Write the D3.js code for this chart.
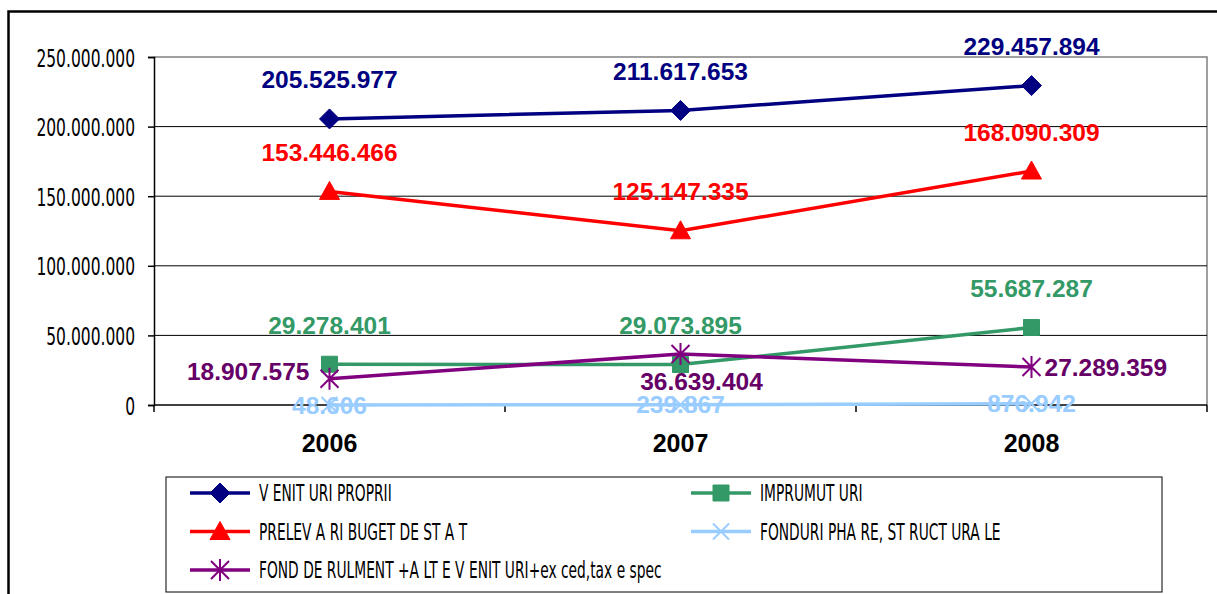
<!DOCTYPE html>
<html>
<head>
<meta charset="utf-8">
<script src="https://cdn.jsdelivr.net/npm/d3@7"></script>
<style>
  body { margin: 0; background: #fff; }
  .tick-label { font-family: "DejaVu Sans", sans-serif; font-size: 25px; fill: #000; }
  .year-label { font-family: "Liberation Sans", Arial, sans-serif; font-weight: bold; font-size: 25px; fill: #000; }
  .value-label { font-family: "Liberation Sans", Arial, sans-serif; font-weight: bold; font-size: 24.5px; }
  .legend-label { font-family: "DejaVu Sans", sans-serif; font-size: 23px; fill: #000; }
</style>
</head>
<body>
<svg id="chart" width="1217" height="594"></svg>
<script>
// data
const years = ['2006', '2007', '2008'];
const venituriProprii = [205525977, 211617653, 229457894];
const prelevariBuget = [153446466, 125147335, 168090309];
const imprumuturi = [29278401, 29073895, 55687287];
const fondRulment = [18907575, 36639404, 27289359];
const fonduriPhare = [48606, 239867, 876942];
const yTicks = [0, 50000000, 100000000, 150000000, 200000000, 250000000];

const seriesNames = [
  'V ENIT URI PROPRII',
  'PRELEV A RI BUGET  DE ST A T',
  'IMPRUMUT URI',
  'FOND DE RULMENT +A LT E V ENIT URI+ex ced,tax e spec',
  'FONDURI PHA RE, ST RUCT URA LE'
];

// styling per series (not data)
const seriesStyle = [
  { values: venituriProprii, color: '#000080', marker: 'diamond', label: (i) => ({ dx: 0, dy: -39, anchor: 'middle' }) },
  { values: prelevariBuget, color: '#ff0000', marker: 'triangle', label: (i) => ({ dx: 0, dy: -39, anchor: 'middle' }) },
  { values: imprumuturi, color: '#339966', marker: 'square', label: (i) => ({ dx: 0, dy: -39, anchor: 'middle' }) },
  { values: fondRulment, color: '#800080', textColor: '#660066', marker: 'star',
    label: (i) => [{ dx: -20, dy: -7, anchor: 'end' }, { dx: 21, dy: 27, anchor: 'middle' }, { dx: 13, dy: 0, anchor: 'start' }][i] },
  { values: fonduriPhare, color: '#99ccff', marker: 'x', label: (i) => ({ dx: 0, dy: 0, anchor: 'middle' }) }
];

const fmt = d3.formatLocale({ decimal: ',', thousands: '.', grouping: [3], currency: ['', ''] }).format(',d');

// squeeze text horizontally to imitate the narrow font of the original
function condense(sel, factor) {
  sel.each(function() {
    const w = this.getComputedTextLength();
    d3.select(this)
      .attr('textLength', w * factor)
      .attr('lengthAdjust', 'spacingAndGlyphs');
  });
}

const svg = d3.select('#chart');
const plot = { left: 154, right: 1207, top: 57, bottom: 405 };

// outer frame
svg.append('path')
  .attr('d', `M8.5,600 L8.5,11.5 L1220,11.5`)
  .attr('fill', 'none')
  .attr('stroke', '#000')
  .attr('stroke-width', 2.5);

const xScale = d3.scaleBand()
  .domain(years)
  .range([plot.left, plot.right])
  .padding(0);

const yScale = d3.scaleLinear()
  .domain([0, 250000000])
  .range([plot.bottom, plot.top]);

const xPos = d => xScale(d) + xScale.bandwidth() / 2;

// plot border (grey top and right)
svg.append('path')
  .attr('d', `M${plot.left},${plot.top} L${plot.right},${plot.top} L${plot.right},${plot.bottom}`)
  .attr('fill', 'none')
  .attr('stroke', '#808080')
  .attr('stroke-width', 1.5);

// gridlines
svg.append('g').selectAll('line')
  .data(yTicks.filter(d => d > 0 && d < 250000000))
  .join('line')
  .attr('x1', plot.left).attr('x2', plot.right)
  .attr('y1', d => yScale(d)).attr('y2', d => yScale(d))
  .attr('stroke', '#000')
  .attr('stroke-width', 1);

// y axis
const yAxis = d3.axisLeft(yScale)
  .tickValues(yTicks)
  .tickSize(6)
  .tickPadding(13)
  .tickFormat(fmt);
const yAxisG = svg.append('g')
  .attr('transform', `translate(${plot.left},0)`)
  .call(yAxis);
yAxisG.select('.domain').attr('stroke', '#000').attr('stroke-width', 1.5);
yAxisG.selectAll('.tick line').attr('stroke', '#000').attr('stroke-width', 1.5);
yAxisG.attr('font-family', null).attr('font-size', null);
yAxisG.selectAll('.tick text')
  .attr('class', 'tick-label')
  .attr('dy', '0.36em')
  .call(condense, 0.62);

// x axis
const xAxisG = svg.append('g')
  .attr('transform', `translate(0,${plot.bottom})`);
xAxisG.append('line')
  .attr('x1', plot.left).attr('x2', plot.right)
  .attr('stroke', '#000').attr('stroke-width', 1.5);
xAxisG.selectAll('.xtick')
  .data([plot.left].concat(years.map(d => xScale(d) + xScale.bandwidth())))
  .join('line')
  .attr('class', 'xtick')
  .attr('x1', d => d).attr('x2', d => d)
  .attr('y1', 0).attr('y2', 7)
  .attr('stroke', '#000').attr('stroke-width', 1.5);
xAxisG.selectAll('.year-label')
  .data(years)
  .join('text')
  .attr('class', 'year-label')
  .attr('x', d => xPos(d))
  .attr('y', 38)
  .attr('dy', '0.35em')
  .attr('text-anchor', 'middle')
  .text(d => d);

// marker shapes
function markerPath(type) {
  switch (type) {
    case 'diamond': return 'M0,-10 L10,0 L0,10 L-10,0 Z';
    case 'triangle': return 'M0,-10 L10,8 L-10,8 Z';
    case 'square': return 'M-8,-8 L8,-8 L8,8 L-8,8 Z';
    case 'star': return 'M-9,-9 L9,9 M-9,9 L9,-9 M0,-11 L0,11';
    case 'x': return 'M-8,-8 L8,8 M-8,8 L8,-8';
  }
}
function drawMarker(g, type, color) {
  const filled = type === 'diamond' || type === 'triangle' || type === 'square';
  g.append('path')
    .attr('d', markerPath(type))
    .attr('fill', filled ? color : 'none')
    .attr('stroke', color)
    .attr('stroke-width', filled ? 1 : 2);
}

const line = d3.line()
  .x((d, i) => xPos(years[i]))
  .y(d => yScale(d));

// draw order: light blue first, then the others
const drawOrder = [4, 2, 3, 1, 0];
drawOrder.forEach(si => {
  const s = seriesStyle[si];
  const g = svg.append('g');
  g.append('path')
    .datum(s.values)
    .attr('d', line)
    .attr('fill', 'none')
    .attr('stroke', s.color)
    .attr('stroke-width', 3.5);
  s.values.forEach((v, i) => {
    const mg = g.append('g')
      .attr('transform', `translate(${xPos(years[i])},${yScale(v)})`);
    drawMarker(mg, s.marker, s.color);
  });
});

// value labels
drawOrder.forEach(si => {
  const s = seriesStyle[si];
  svg.append('g').selectAll('text')
    .data(s.values)
    .join('text')
    .attr('class', 'value-label')
    .attr('x', (d, i) => xPos(years[i]) + s.label(i).dx)
    .attr('y', (d, i) => yScale(d) + s.label(i).dy)
    .attr('dy', '0.35em')
    .attr('text-anchor', (d, i) => s.label(i).anchor)
    .attr('fill', s.textColor || s.color)
    .text(d => fmt(d));
});

// legend
const legend = svg.append('g');
legend.append('rect')
  .attr('x', 166).attr('y', 477)
  .attr('width', 996).attr('height', 115)
  .attr('fill', '#fff')
  .attr('stroke', '#000')
  .attr('stroke-width', 1);

const legendOrder = [0, 2, 1, 4, 3];
legendOrder.forEach((si, k) => {
  const col = k % 2;
  const row = Math.floor(k / 2);
  const x0 = col === 0 ? 190 : 691;
  const y0 = 493 + row * 38.5;
  const s = seriesStyle[si];
  const item = legend.append('g').attr('transform', `translate(${x0},${y0})`);
  item.append('line')
    .attr('x1', 0).attr('x2', 60)
    .attr('stroke', s.color).attr('stroke-width', 3.5);
  drawMarker(item.append('g').attr('transform', 'translate(30,0)'), s.marker, s.color);
  item.append('text')
    .attr('class', 'legend-label')
    .attr('x', 69)
    .attr('dy', '0.36em')
    .text(seriesNames[si])
    .call(condense, 0.6);
});
</script>
</body>
</html>
